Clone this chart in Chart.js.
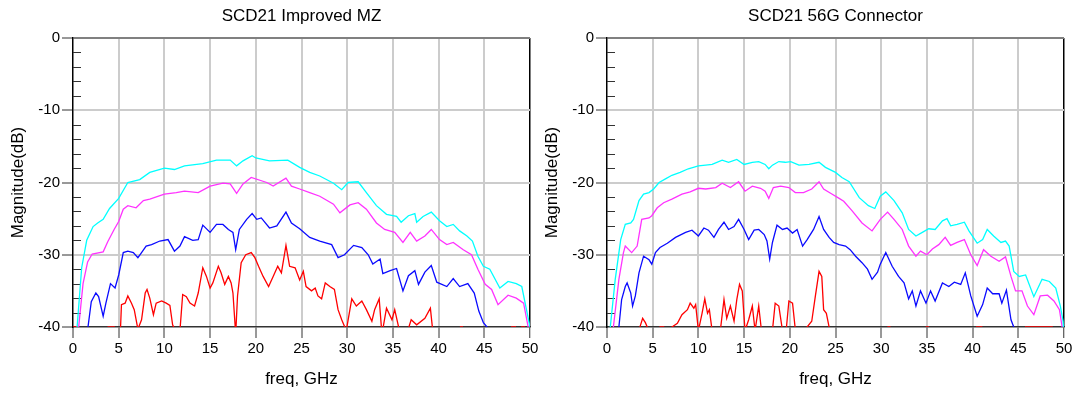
<!DOCTYPE html>
<html>
<head>
<meta charset="utf-8">
<script src="https://cdn.jsdelivr.net/npm/chart.js@4"></script>
<style>
  body { margin: 0; background: #fff; width: 1075px; height: 394px; overflow: hidden; position: relative; }
  canvas { position: absolute; top: 0; }
  #leftChart { left: 0; }
  #rightChart { left: 534px; }
</style>
</head>
<body>
<canvas id="leftChart" width="545" height="394"></canvas>
<canvas id="rightChart" width="545" height="394"></canvas>
<script>
// axis ticks
const freqTicks = [0, 5, 10, 15, 20, 25, 30, 35, 40, 45, 50];
const magTicks = [-40, -30, -20, -10, 0];

// ---- SCD21 Improved MZ : [freq GHz, dB] ----
const leftCyan = [[0,-45],[0.45,-40],[0.95,-31.8],[1.5,-28.0],[2.2,-26.1],[2.7,-25.6],[3.3,-25.1],[4.0,-23.6],[5.0,-22.2],
  [6.0,-20.0],[7.3,-19.6],[8.4,-18.6],[10.0,-18.0],[11.1,-18.2],[12.2,-17.7],[14.2,-17.4],[15.7,-16.9],[17.2,-16.9],
  [17.9,-17.7],[18.6,-17.0],[19.6,-16.3],[20.0,-16.6],[21.5,-17.0],[23.5,-16.9],[24.8,-17.9],[25.9,-18.6],[27.0,-19.1],
  [28.5,-20.1],[29.4,-21.0],[30.1,-20.0],[31.2,-19.9],[32.1,-21.4],[33.2,-23.2],[34.3,-24.4],[35.4,-24.7],[35.9,-25.5],
  [36.7,-24.6],[37.4,-24.3],[37.6,-25.5],[38.3,-24.7],[39.2,-24.1],[40.1,-25.3],[40.9,-26.1],[41.6,-25.8],[42.3,-26.7],
  [43.1,-27.4],[43.7,-28.1],[44.3,-30.2],[44.9,-31.6],[45.6,-32.0],[46.7,-34.6],[47.6,-33.7],[48.5,-34.0],[49.1,-34.4],[50,-40]];
const leftMagenta = [[0,-45],[0.62,-40],[1.1,-34.0],[1.6,-31.0],[2.1,-29.9],[3.3,-29.6],[3.8,-28.2],[4.5,-26.5],[5.0,-25.4],
  [5.5,-23.7],[6.0,-23.2],[6.9,-23.5],[7.7,-22.5],[8.4,-22.3],[10.0,-21.6],[11.3,-21.4],[12.2,-21.2],[13.7,-21.4],[15.0,-20.5],
  [16.4,-20.1],[17.2,-20.2],[17.9,-21.5],[18.6,-20.2],[19.5,-19.3],[21.2,-20.0],[21.9,-20.5],[23.3,-19.4],[23.9,-20.5],
  [24.8,-20.9],[25.9,-21.4],[27.0,-21.9],[28.5,-23.0],[29.2,-24.2],[30.3,-23.1],[31.2,-22.8],[32.1,-23.7],[33.2,-25.6],
  [34.1,-26.5],[35.2,-26.9],[36.1,-28.3],[36.9,-26.9],[37.6,-28.1],[38.5,-27.4],[39.2,-26.5],[40.1,-27.9],[40.9,-28.6],
  [41.6,-28.3],[42.7,-29.3],[43.6,-30.0],[44.3,-32.0],[45.1,-34.1],[45.8,-34.8],[46.5,-36.9],[47.6,-35.6],[48.5,-36.0],
  [49.3,-36.7],[49.8,-40],[50,-45]];
const leftBlue = [[0,-45],[1.64,-40],[2.0,-36.5],[2.5,-35.3],[2.8,-35.8],[3.3,-38.5],[3.6,-36.7],[4.1,-34.0],[4.6,-34.6],
  [5.0,-32.8],[5.5,-29.7],[6.0,-29.5],[6.6,-29.7],[7.1,-30.4],[7.5,-29.7],[8.0,-28.8],[8.6,-28.6],[9.5,-28.1],[10.4,-27.9],
  [11.1,-29.5],[11.7,-28.8],[12.2,-27.5],[13.1,-28.0],[13.7,-27.9],[14.2,-25.9],[15.0,-26.9],[15.7,-25.8],[16.4,-25.8],
  [17.0,-26.5],[17.5,-26.9],[17.8,-29.3],[18.2,-26.5],[19.0,-25.1],[19.6,-24.3],[20.1,-25.1],[20.6,-24.9],[21.5,-26.3],
  [22.3,-26.0],[23.3,-24.1],[23.9,-25.6],[24.8,-26.4],[25.9,-27.6],[27.0,-28.1],[28.3,-28.6],[29.0,-30.4],[29.7,-30.0],
  [30.7,-28.7],[31.6,-29.0],[32.3,-30.0],[32.8,-31.3],[33.6,-30.6],[33.9,-32.6],[34.7,-32.2],[35.4,-31.9],[36.1,-35.0],
  [36.7,-32.9],[37.4,-32.2],[37.8,-34.1],[38.5,-32.4],[39.2,-31.5],[39.8,-33.8],[40.9,-34.4],[41.6,-33.3],[42.3,-34.4],
  [43.2,-34.0],[43.9,-35.3],[44.4,-37.8],[44.9,-39.4],[45.3,-40],[45.8,-45],[50,-45]];
const leftRed = [[0,-40],[0.5,-40],[0.55,-45],[3.8,-45],[3.85,-40],[4.5,-40],[4.55,-45],[5.05,-45],[5.3,-36.9],[5.7,-36.7],
  [6.0,-35.7],[6.4,-36.7],[6.7,-37.6],[7.1,-40.3],[7.5,-39.0],[7.9,-35.3],[8.1,-34.8],[8.4,-36.0],[8.8,-38.3],[9.1,-36.7],
  [9.7,-36.4],[10.2,-36.7],[10.6,-37.0],[10.9,-39.7],[11.2,-40.5],[11.7,-40.5],[12.0,-35.5],[12.4,-35.8],[12.8,-36.7],
  [13.3,-37.1],[13.7,-35.3],[14.2,-31.8],[14.6,-33.0],[15.0,-34.6],[15.3,-33.9],[15.9,-31.6],[16.2,-32.5],[16.6,-34.1],
  [17.0,-33.0],[17.3,-33.9],[17.5,-35.3],[17.8,-41],[18.0,-35.7],[18.4,-31.1],[18.9,-30.0],[19.5,-29.7],[19.9,-30.4],
  [20.3,-31.6],[20.8,-33.0],[21.4,-34.4],[21.9,-33.0],[22.4,-31.6],[22.8,-32.5],[23.3,-28.7],[23.7,-31.6],[24.3,-31.8],
  [24.8,-33.5],[25.2,-32.3],[25.5,-34.4],[26.1,-35.0],[26.5,-34.6],[26.8,-35.7],[27.2,-36.1],[27.6,-33.9],[28.1,-34.4],
  [28.6,-34.8],[29.0,-37.6],[29.4,-39.0],[29.9,-40.5],[30.5,-36.1],[31.0,-37.1],[31.6,-36.4],[32.1,-37.6],[32.7,-39.2],
  [33.0,-37.6],[33.5,-36.1],[33.8,-41],[34.3,-37.4],[34.9,-39.0],[35.2,-37.6],[35.8,-41],[36.5,-41],[37.0,-39.0],
  [37.6,-39.7],[38.5,-38.8],[39.1,-37.4],[39.4,-41],[39.6,-45],[42.35,-45],[42.4,-40],[42.6,-40],[42.65,-45],[47.95,-45],
  [48.0,-40],[48.4,-40],[48.45,-45],[49.05,-45],[49.1,-40],[49.4,-40],[49.45,-45],[50,-45]];

// ---- SCD21 56G Connector : [freq GHz, dB] ----
const rightCyan = [[0,-45],[0.36,-40],[0.9,-33.4],[1.5,-27.9],[2.0,-25.8],[2.6,-25.6],[2.9,-25.1],[3.5,-22.5],[4.0,-21.6],
  [4.6,-21.4],[5.1,-20.9],[5.7,-20.0],[6.4,-19.5],[7.1,-19.0],[8.0,-18.6],[8.9,-18.1],[10.0,-17.7],[10.8,-17.6],[11.5,-17.5],
  [12.6,-16.9],[13.3,-17.2],[14.2,-16.8],[15.0,-17.5],[15.9,-17.2],[16.6,-17.1],[17.3,-17.5],[17.7,-18.1],[18.1,-17.6],
  [18.8,-17.1],[19.5,-17.2],[20.1,-17.1],[21.0,-17.6],[22.1,-17.5],[23.2,-17.2],[23.9,-17.9],[25.0,-18.6],[25.7,-19.3],
  [26.5,-19.9],[27.6,-22.1],[28.6,-23.2],[29.3,-23.6],[29.9,-21.9],[30.5,-21.3],[31.4,-22.5],[32.3,-24.2],[33.0,-26.5],
  [33.8,-27.4],[34.5,-26.9],[35.2,-26.4],[35.9,-26.5],[36.7,-25.3],[37.2,-25.0],[37.6,-26.0],[38.3,-25.8],[39.1,-25.5],
  [39.6,-26.7],[40.5,-28.4],[41.1,-27.9],[41.6,-26.5],[42.3,-27.4],[43.1,-28.3],[43.6,-28.1],[44.0,-28.8],[44.5,-32.3],
  [45.1,-33.0],[45.8,-32.8],[46.7,-35.8],[47.6,-33.4],[48.4,-33.7],[49.1,-34.6],[49.6,-37.1],[49.9,-39.2],[50,-41]];
const rightMagenta = [[0,-45],[0.7,-40],[1.3,-33.4],[1.8,-29.7],[2.0,-28.8],[2.7,-29.7],[3.3,-28.8],[3.8,-25.1],[4.6,-24.9],
  [4.9,-24.6],[5.5,-23.5],[6.2,-22.8],[7.1,-22.3],[8.2,-21.6],[9.1,-21.3],[10.0,-20.8],[10.8,-20.9],[11.9,-20.7],[12.6,-20.1],
  [13.5,-20.7],[14.4,-19.9],[15.1,-21.2],[15.9,-20.5],[16.8,-20.8],[17.3,-21.2],[17.7,-22.2],[18.2,-20.7],[19.0,-20.5],
  [19.9,-20.7],[20.6,-21.4],[21.5,-21.4],[22.4,-20.9],[23.2,-19.9],[23.7,-20.9],[24.6,-21.6],[25.4,-22.2],[25.9,-22.6],
  [26.8,-23.9],[27.9,-25.6],[29.0,-26.7],[29.9,-25.1],[30.7,-24.1],[31.4,-25.1],[32.3,-26.5],[33.0,-28.8],[33.8,-30.2],
  [34.3,-29.5],[35.0,-30.0],[35.6,-29.2],[36.3,-28.6],[37.0,-27.6],[37.6,-28.7],[38.3,-28.3],[39.1,-27.9],[39.8,-30.0],
  [40.5,-31.5],[41.2,-29.3],[42.0,-30.2],[42.9,-30.9],[43.6,-30.3],[44.2,-33.0],[44.7,-35.0],[45.4,-35.0],[46.0,-37.1],
  [46.7,-38.3],[47.4,-35.7],[48.2,-35.6],[48.9,-36.4],[49.5,-37.6],[49.8,-40],[50,-42]];
const rightBlue = [[0,-45],[1.3,-40],[1.6,-36.2],[2.0,-34.4],[2.2,-33.9],[2.6,-35.3],[2.8,-37.1],[3.1,-35.7],[3.5,-32.5],
  [4.0,-30.2],[4.6,-30.7],[4.9,-31.3],[5.3,-29.7],[5.8,-29.0],[6.6,-28.4],[7.5,-27.6],[8.6,-26.9],[9.3,-26.6],[10.0,-27.4],
  [10.6,-26.3],[11.1,-26.6],[11.7,-27.6],[12.2,-26.5],[12.8,-25.5],[13.3,-26.5],[13.9,-26.1],[14.4,-25.1],[15.0,-26.5],
  [15.5,-27.9],[16.1,-26.6],[16.6,-26.5],[17.2,-27.2],[17.5,-28.1],[17.8,-30.6],[18.1,-28.3],[18.6,-25.9],[19.2,-26.5],
  [19.7,-26.3],[20.3,-27.0],[20.8,-26.5],[21.4,-28.8],[21.9,-27.9],[22.6,-26.5],[23.2,-24.7],[23.7,-26.5],[24.3,-27.6],
  [24.8,-28.3],[25.4,-28.6],[26.1,-28.8],[26.6,-29.3],[27.2,-30.2],[27.9,-31.1],[28.5,-32.0],[29.0,-33.4],[29.6,-32.4],
  [29.9,-31.3],[30.5,-29.7],[31.2,-31.6],[31.9,-33.0],[32.5,-33.9],[33.0,-36.1],[33.4,-35.0],[33.8,-37.1],[34.3,-35.0],
  [34.9,-36.7],[35.4,-35.0],[35.9,-36.4],[36.7,-33.9],[37.4,-34.4],[38.0,-33.8],[38.7,-34.1],[39.2,-32.5],[39.8,-35.7],
  [40.5,-38.5],[41.1,-36.9],[41.6,-34.6],[42.2,-35.4],[42.9,-35.4],[43.2,-36.7],[43.7,-34.9],[44.2,-39.0],[44.5,-40],
  [44.9,-45],[50,-45]];
const rightRed = [[0,-45],[3.5,-45],[3.6,-40],[3.9,-38.8],[4.2,-39.4],[4.4,-40],[4.45,-45],[5.75,-45],[5.8,-40],[6.2,-40],
  [6.25,-45],[7.0,-45],[7.1,-40],[7.7,-39.5],[8.2,-38.3],[8.8,-37.6],[9.1,-36.7],[9.5,-37.4],[9.7,-36.9],[10.0,-40.5],
  [10.4,-38.1],[10.7,-36.1],[11.0,-38.1],[11.2,-37.6],[11.5,-40.5],[12.4,-40.5],[12.8,-36.2],[13.1,-38.8],[13.5,-37.1],
  [13.9,-39.2],[14.2,-36.2],[14.5,-34.1],[14.8,-35.0],[15.1,-40.5],[15.5,-39.0],[15.9,-37.1],[16.2,-40.5],[16.6,-37.1],
  [16.9,-40.5],[18.1,-40.5],[18.4,-36.7],[18.8,-37.1],[19.2,-40.5],[19.6,-40.5],[19.9,-36.4],[20.3,-36.7],[20.6,-40.3],
  [21.7,-40.3],[22.4,-39.2],[22.8,-35.7],[23.2,-32.3],[23.5,-33.0],[23.7,-37.6],[24.0,-38.1],[24.3,-40],[24.4,-45],
  [30.7,-45],[30.75,-40],[30.95,-40],[31.0,-45],[34.9,-45],[34.95,-40],[35.15,-40],[35.2,-45],[40.4,-45],[40.45,-40],
  [41.0,-40],[41.05,-45],[45.75,-45],[45.8,-40],[48.7,-40],[48.75,-45],[50,-45]];

const seriesColors = ['#00ffff', '#ff33ff', '#0a0aff', '#ff0000'];

Chart.defaults.font.family = "'Liberation Sans', Arial, sans-serif";
Chart.defaults.color = '#000';

// small inward ticks every 2 dB on the magnitude axis
const minorTicks = {
  id: 'minorTicks',
  beforeDatasetsDraw(chart) {
    const y = chart.scales.y, ctx = chart.ctx, left = chart.chartArea.left;
    ctx.save();
    ctx.strokeStyle = '#333';
    ctx.lineWidth = 1;
    ctx.beginPath();
    for (let v = -38; v < 0; v += 2) {
      if (v % 10 === 0) continue;
      const py = Math.round(y.getPixelForValue(v)) + 0.5;
      ctx.moveTo(left, py);
      ctx.lineTo(left + 8, py);
    }
    ctx.stroke();
    ctx.restore();
  }
};

function makeChart(id, title, series) {
  return new Chart(id, {
    type: 'line',
    data: {
      datasets: series.map((s, i) => ({
        data: s.map(p => ({x: p[0], y: p[1]})),
        borderColor: seriesColors[i],
        borderWidth: 1.3,
        pointRadius: 0,
        tension: 0,
        fill: false
      }))
    },
    options: {
      responsive: false,
      animation: false,
      layout: {padding: {left: 0, right: 15, top: 0, bottom: 0}},
      plugins: {legend: {display: false}, tooltip: {enabled: false}, title: {display: false}},
      scales: {
        x: {
          type: 'linear', min: 0, max: 50,
          afterBuildTicks: s => { s.ticks = freqTicks.map(v => ({value: v})); },
          ticks: {font: {size: 15}, padding: 2, maxRotation: 0, autoSkip: false, color: '#000'},
          grid: {
            color: c => c.tick.value === 50 ? '#000' : (c.tick.value === 0 ? 'rgba(0,0,0,0)' : '#cccccc'),
            lineWidth: c => c.tick.value === 50 ? 1.5 : 2,
            tickColor: '#333', tickWidth: 1, tickLength: 11
          },
          border: {color: '#333', width: 1.5},
          title: {display: true, text: 'freq, GHz', font: {size: 17}, color: '#000', padding: {top: 0, bottom: 4}},
          afterFit: s => { s.height = 67; s.paddingLeft = 0; s.paddingRight = 0; }
        },
        x2: {
          type: 'linear', position: 'top', min: 0, max: 50,
          ticks: {display: false},
          grid: {display: false},
          border: {display: false},
          title: {display: true, text: title, font: {size: 17}, color: '#000', padding: {top: 6, bottom: 0}},
          afterFit: s => { s.height = 38; s.paddingLeft = 0; s.paddingRight = 0; }
        },
        y: {
          min: -40, max: 0,
          afterBuildTicks: s => { s.ticks = magTicks.map(v => ({value: v})); },
          ticks: {font: {size: 15}, padding: 2, color: '#000'},
          grid: {
            color: c => c.tick.value === 0 ? '#808080' : (c.tick.value === -40 ? 'rgba(0,0,0,0)' : '#cccccc'),
            lineWidth: 2,
            tickColor: '#333', tickWidth: 1, tickLength: 11
          },
          border: {color: '#000', width: 1.5},
          title: {display: true, text: 'Magnitude(dB)', font: {size: 17}, color: '#000', padding: {top: 8, bottom: 0}},
          afterFit: s => { s.width = 73; s.paddingTop = 0; s.paddingBottom = 0; }
        }
      }
    },
    plugins: [minorTicks]
  });
}

makeChart('leftChart', 'SCD21 Improved MZ', [leftCyan, leftMagenta, leftBlue, leftRed]);
makeChart('rightChart', 'SCD21 56G Connector', [rightCyan, rightMagenta, rightBlue, rightRed]);
</script>
</body>
</html>
